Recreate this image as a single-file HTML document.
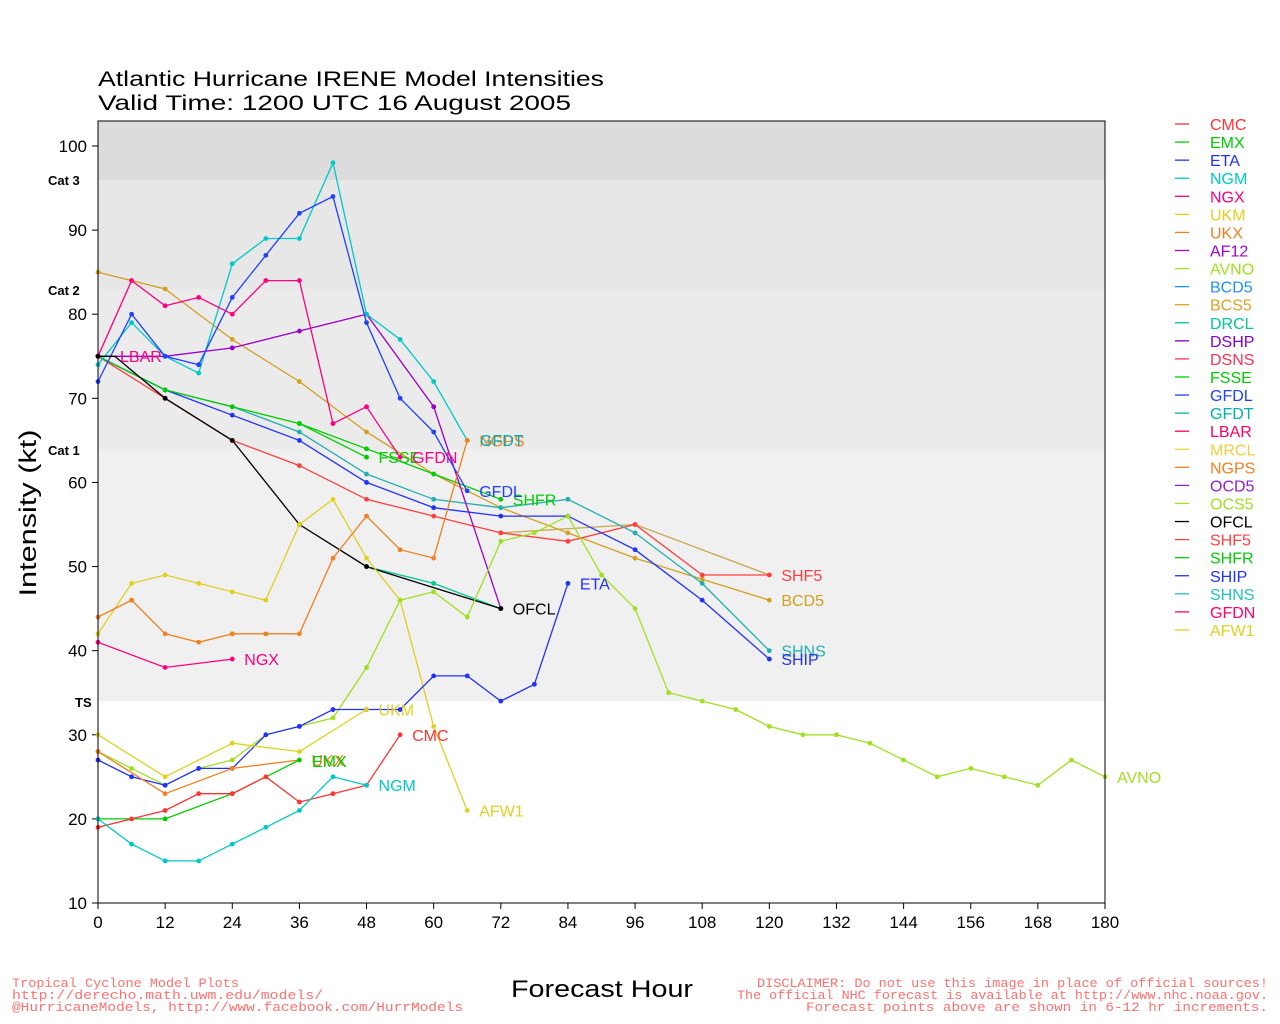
<!DOCTYPE html>
<html><head><meta charset="utf-8"><style>
body{margin:0;background:#fff;}
svg{display:block;font-family:"Liberation Sans",sans-serif;}
</style></head><body>
<svg id="s" width="1280" height="1024" xmlns="http://www.w3.org/2000/svg">
<rect x="0" y="0" width="1280" height="1024" fill="#fff"/>
<rect x="98" y="121" width="1007" height="59" fill="#dcdcdc"/>
<rect x="98" y="180" width="1007" height="109" fill="#e7e7e7"/>
<rect x="98" y="289" width="1007" height="160" fill="#ebebeb"/>
<rect x="98" y="449" width="1007" height="252" fill="#f0f0f0"/>
<text x="98" y="86" font-size="21" textLength="506" lengthAdjust="spacingAndGlyphs">Atlantic Hurricane IRENE Model Intensities</text>
<text x="98" y="110" font-size="21" textLength="473" lengthAdjust="spacingAndGlyphs">Valid Time: 1200 UTC 16 August 2005</text>
<g font-size="13" font-weight="bold">
<text x="48" y="185">Cat 3</text><text x="48" y="295">Cat 2</text>
<text x="48" y="455">Cat 1</text><text x="75" y="707">TS</text></g>
<text transform="translate(36,513) rotate(-90)" font-size="24" text-anchor="middle" textLength="167" lengthAdjust="spacingAndGlyphs">Intensity (kt)</text>
<text x="511" y="997" font-size="24" textLength="182" lengthAdjust="spacingAndGlyphs">Forecast Hour</text>
<g font-size="13" fill="#ff7070" font-family="Liberation Mono,monospace">
<text x="12" y="987" textLength="227" lengthAdjust="spacingAndGlyphs">Tropical Cyclone Model Plots</text>
<text x="12" y="999" textLength="311" lengthAdjust="spacingAndGlyphs">http://derecho.math.uwm.edu/models/</text>
<text x="12" y="1011" textLength="451" lengthAdjust="spacingAndGlyphs">@HurricaneModels, http://www.facebook.com/HurrModels</text>
<text x="757" y="987" textLength="511" lengthAdjust="spacingAndGlyphs">DISCLAIMER: Do not use this image in place of official sources!</text>
<text x="737" y="999" textLength="531" lengthAdjust="spacingAndGlyphs">The official NHC forecast is available at http://www.nhc.noaa.gov.</text>
<text x="806" y="1011" textLength="462" lengthAdjust="spacingAndGlyphs">Forecast points above are shown in 6-12 hr increments.</text>
</g>
<g id="g"></g>
<rect x="98" y="121" width="1007" height="782" fill="none" stroke="#000" stroke-width="1"/>
</svg>
<script>
var g=document.getElementById('g');var h='';
function X(t){return 98+t*1007/180;}function Y(v){return 903-(v-10)*757/90;}
for(var v=10;v<=100;v+=10){h+='<line x1="92" x2="98" y1="'+Y(v)+'" y2="'+Y(v)+'" stroke="#000"/><text x="87" y="'+(Y(v)+6)+'" font-size="17" text-anchor="end">'+v+'</text>';}
for(var t=0;t<=180;t+=12){h+='<line x1="'+X(t)+'" x2="'+X(t)+'" y1="903" y2="909" stroke="#000"/><text x="'+X(t)+'" y="928" font-size="17" text-anchor="middle">'+t+'</text>';}
var S=[
["#c8a850",[[72,54],[96,55],[120,49]],""],
["#d4a020",[[0,85],[12,83],[24,77],[36,72],[48,66],[60,61],[72,57],[84,54],[96,51],[108,48.5],[120,46]],"BCD5"],
["#ff4040",[[0,75],[12,70],[24,65],[36,62],[48,58],[60,56],[72,54],[84,53],[96,55],[108,49],[120,49]],"SHF5"],
["#20b0b0",[[0,75],[12,71],[24,69],[36,66],[48,61],[60,58],[72,57],[84,58],[96,54],[108,48],[120,40]],"SHNS"],
["#2030ff",[[0,75],[12,71],[24,68],[36,65],[48,60],[60,57],[72,56],[84,56],[96,52],[108,46],[120,39]],"SHIP"],
["#00cc00",[[0,75],[12,71],[24,69],[36,67],[48,64],[60,61],[72,58]],"SHFR"],
["#00cc00",[[36,67],[48,63]],"FSSE"],
["#9900cc",[[0,75],[12,75],[24,76],[36,78],[48,80],[60,69],[72,45]],""],
["#00c8c8",[[0,74],[6,79],[12,75],[18,73],[24,86],[30,89],[36,89],[42,98],[48,80],[54,77],[60,72],[66,65]],""],
["#2040ff",[[0,72],[6,80],[12,75],[18,74],[24,82],[30,87],[36,92],[42,94],[48,79],[54,70],[60,66],[66,59]],"GFDL"],
["#ff0080",[[0,75],[6,84],[12,81],[18,82],[24,80],[30,84],[36,84],[42,67],[48,69],[54,63]],"GFDN"],
["#00c890",[[48,50],[60,48],[72,45]],""],
["#000000",[[0,75],[3,75],[12,70],[24,65],[36,55],[48,50],[72,45]],"OFCL"],
["#e0d020",[[0,42],[6,48],[12,49],[18,48],[24,47],[30,46],[36,55],[42,58],[48,51],[54,46],[60,31],[66,21]],"AFW1"],
["#f08020",[[0,44],[6,46],[12,42],[18,41],[24,42],[30,42],[36,42],[42,51],[48,56],[54,52],[60,51],[66,65]],"NGPS"],
["#ff0080",[[0,41],[12,38],[24,39]],"NGX"],
["#a0e020",[[0,28],[6,26],[12,24],[18,26],[24,27],[30,30],[36,31],[42,32],[48,38],[54,46],[60,47],[66,44],[72,53],[78,54],[84,56],[90,49],[96,45],[102,35],[108,34],[114,33],[120,31],[126,30],[132,30],[138,29],[144,27],[150,25],[156,26],[162,25],[168,24],[174,27],[180,25]],"AVNO"],
["#2030ff",[[0,27],[6,25],[12,24],[18,26],[24,26],[30,30],[36,31],[42,33],[48,33],[54,33],[60,37],[66,37],[72,34],[78,36],[84,48]],"ETA"],
["#e0d020",[[0,30],[12,25],[24,29],[36,28],[48,33]],"UKM"],
["#f08020",[[0,28],[12,23],[24,26],[36,27]],"UKX"],
["#00cc00",[[0,20],[12,20],[24,23],[36,27]],""],
["#ff3333",[[0,19],[6,20],[12,21],[18,23],[24,23],[30,25],[36,22],[42,23],[48,24],[54,30]],"CMC"],
["#00c8c8",[[0,20],[6,17],[12,15],[18,15],[24,17],[30,19],[36,21],[42,25],[48,24]],"NGM"]
];
S.forEach(function(s){var p=s[1].map(function(q){return X(q[0]).toFixed(1)+','+Y(q[1]).toFixed(1);}).join(' ');
h+='<polyline points="'+p+'" fill="none" stroke="'+s[0]+'" stroke-width="1.3"/>';
s[1].forEach(function(q){if(q[0]!=3)h+='<circle cx="'+X(q[0])+'" cy="'+Y(q[1])+'" r="2.4" fill="'+s[0]+'"/>';});
if(s[2]){var l=s[1][s[1].length-1];h+='<text x="'+(X(l[0])+12)+'" y="'+(Y(l[1])+6)+'" font-size="16" fill="'+s[0]+'">'+s[2]+'</text>';}});
h+='<text x="120" y="362" font-size="16" fill="#ff0080">LBAR</text><text x="480" y="446" font-size="16" fill="#00b0b0">GFDT</text><text x="312" y="767" font-size="16" fill="#00cc00">EMX</text>';
var L=[["CMC","#ff3333"],["EMX","#00cc00"],["ETA","#2030ff"],["NGM","#00c8c8"],["NGX","#ff0080"],["UKM","#e0d020"],["UKX","#f08020"],["AF12","#a000d0"],["AVNO","#a0e020"],["BCD5","#2090ff"],["BCS5","#e0a020"],["DRCL","#00c890"],["DSHP","#8000d0"],["DSNS","#ff3050"],["FSSE","#00cc00"],["GFDL","#2040ff"],["GFDT","#00b0b0"],["LBAR","#ff0060"],["MRCL","#f0d040"],["NGPS","#f08020"],["OCD5","#9020d0"],["OCS5","#a0e020"],["OFCL","#000000"],["SHF5","#ff4040"],["SHFR","#00cc00"],["SHIP","#2030ff"],["SHNS","#20c0c0"],["GFDN","#ff0070"],["AFW1","#e0d020"]];
L.forEach(function(l,i){var y=124+i*18.07;h+='<line x1="1175" x2="1189" y1="'+y+'" y2="'+y+'" stroke="'+l[1]+'" stroke-width="1.3"/><text x="1210" y="'+(y+6)+'" font-size="16" fill="'+l[1]+'">'+l[0]+'</text>';});
g.innerHTML=h;
</script>
</body></html>
